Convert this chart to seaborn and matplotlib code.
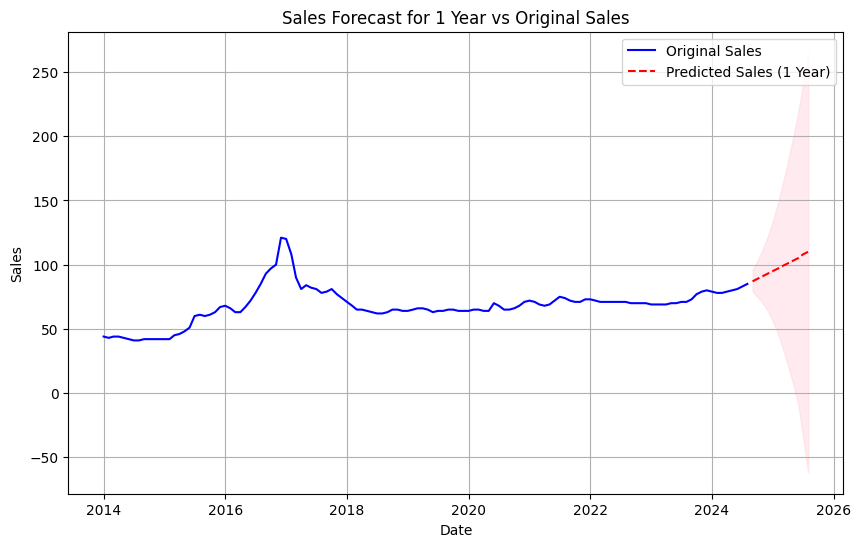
import pandas as pd
import numpy as np
import matplotlib
matplotlib.use('Agg')
import matplotlib.pyplot as plt
import seaborn as sns

# monthly sales, 2014-01 .. 2024-08
sales = [
    44, 43, 44, 44, 43, 42, 41, 41, 42, 42, 42, 42,
    42, 42, 45, 46, 48, 51, 60, 61, 60, 61, 63, 67,
    68, 66, 63, 63, 67, 72, 78, 85, 93, 97, 100, 121,
    120, 108, 90, 81, 84, 82, 81, 78, 79, 81, 77, 74,
    71, 68, 65, 65, 64, 63, 62, 62, 63, 65, 65, 64,
    64, 65, 66, 66, 65, 63, 64, 64, 65, 65, 64, 64,
    64, 65, 65, 64, 64, 70, 68, 65, 65, 66, 68, 71,
    72, 71, 69, 68, 69, 72, 75, 74, 72, 71, 71, 73,
    73, 72, 71, 71, 71, 71, 71, 71, 70, 70, 70, 70,
    69, 69, 69, 69, 70, 70, 71, 71, 73, 77, 79, 80,
    79, 78, 78, 79, 80, 81, 83, 85,
]
dates = pd.date_range('2014-01-01', periods=len(sales), freq='MS')

# 1 year forecast, 2024-09 .. 2025-08
pred = [87, 89, 91, 93, 95, 97, 99, 101, 103, 105, 108, 110]
upper = [96, 103, 112, 122, 134, 148, 163, 180, 198, 218, 240, 265]
lower = [79, 75, 70, 64, 56, 46, 35, 22, 8, -8, -34, -62]
pred_dates = pd.date_range('2024-09-01', periods=len(pred), freq='MS')

df = pd.DataFrame({'Date': dates, 'Sales': sales})
df_pred = pd.DataFrame({'Date': pred_dates, 'Sales': pred})

fig, ax = plt.subplots(figsize=(10, 6))
sns.lineplot(data=df, x='Date', y='Sales', color='blue', label='Original Sales', ax=ax)
sns.lineplot(data=df_pred, x='Date', y='Sales', color='red', linestyle='--',
             label='Predicted Sales (1 Year)', ax=ax)
ax.fill_between(pred_dates, lower, upper, color='pink', alpha=0.3)

ax.set_title('Sales Forecast for 1 Year vs Original Sales')
ax.set_xlabel('Date')
ax.set_ylabel('Sales')
ax.grid(True)
ax.legend(loc='upper right')

plt.savefig('out.png', dpi=100, bbox_inches='tight')
